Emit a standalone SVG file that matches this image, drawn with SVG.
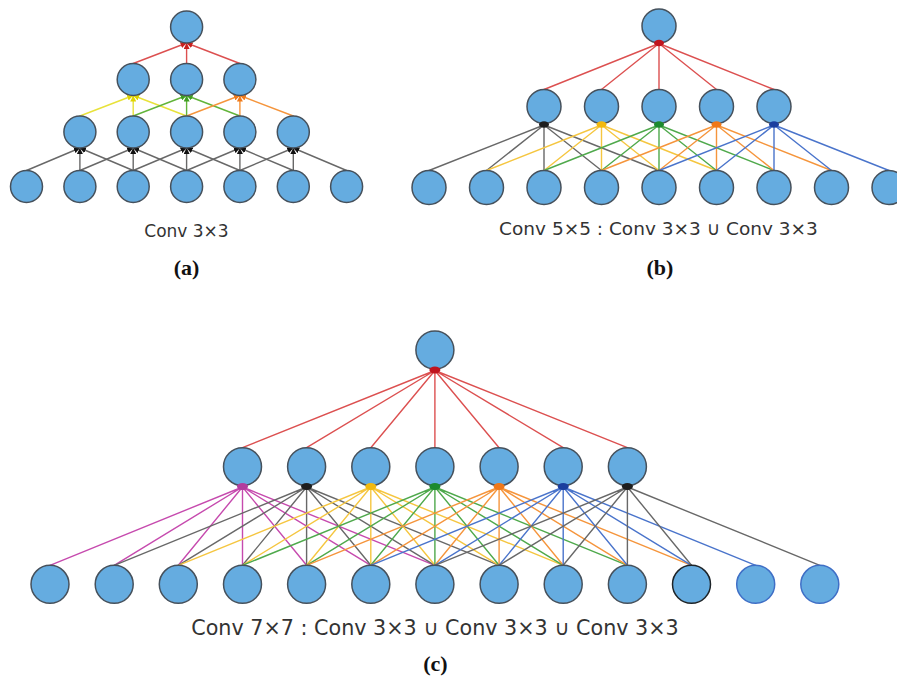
<svg xmlns="http://www.w3.org/2000/svg" width="897" height="679" viewBox="0 0 897 679">
  <style>
    .n { fill: #65ace0; stroke: #46515c; stroke-width: 1.5; }
    .n.dk { stroke: #1e2428; }
    .n.bl { stroke: #3f6fc6; }
    .e { fill: none; stroke-width: 1.4; stroke-linecap: round; }
    .gy { stroke: #686868; }
    .ye { stroke: #f5c640; }
    .ly { stroke: #e8e23a; }
    .gn { stroke: #4fa94c; }
    .lg { stroke: #62b43a; }
    .or { stroke: #f5953c; }
    .bu { stroke: #4a74cb; }
    .mg { stroke: #c64aae; }
    .rd { stroke: #dc5050; }
    .cap { font-family: "DejaVu Sans", "Noto Sans", sans-serif; fill: #333; text-anchor: middle; }
    .tag { font-family: "Liberation Serif", "Times New Roman", serif; font-weight: bold; font-size: 22px; fill: #111; text-anchor: middle; }
  </style>
  <defs>
    <marker id="ah-k" viewBox="0 0 8 8" refX="8" refY="4" markerWidth="6" markerHeight="6" markerUnits="userSpaceOnUse" orient="auto"><path d="M0,0L8,4L0,8z" fill="#111"/></marker>
    <marker id="ah-y" viewBox="0 0 8 8" refX="8" refY="4" markerWidth="6" markerHeight="6" markerUnits="userSpaceOnUse" orient="auto"><path d="M0,0L8,4L0,8z" fill="#e0d400"/></marker>
    <marker id="ah-g" viewBox="0 0 8 8" refX="8" refY="4" markerWidth="6" markerHeight="6" markerUnits="userSpaceOnUse" orient="auto"><path d="M0,0L8,4L0,8z" fill="#3f9e22"/></marker>
    <marker id="ah-o" viewBox="0 0 8 8" refX="8" refY="4" markerWidth="6" markerHeight="6" markerUnits="userSpaceOnUse" orient="auto"><path d="M0,0L8,4L0,8z" fill="#f07a1a"/></marker>
    <marker id="ah-r" viewBox="0 0 8 8" refX="8" refY="4" markerWidth="6" markerHeight="6" markerUnits="userSpaceOnUse" orient="auto"><path d="M0,0L8,4L0,8z" fill="#c8201e"/></marker>
  </defs>

  <!-- ===== (a) stacked 3x3 convolutions ===== -->
  <g id="a-connectors">
    <g class="e gy" marker-end="url(#ah-k)">
      <line x1="26.5" y1="170.5" x2="79.9" y2="148"/>
      <line x1="79.9" y1="170.5" x2="79.9" y2="148"/>
      <line x1="133.2" y1="170.5" x2="79.9" y2="148"/>
      <line x1="79.9" y1="170.5" x2="133.2" y2="148"/>
      <line x1="133.2" y1="170.5" x2="133.2" y2="148"/>
      <line x1="186.6" y1="170.5" x2="133.2" y2="148"/>
      <line x1="133.2" y1="170.5" x2="186.6" y2="148"/>
      <line x1="186.6" y1="170.5" x2="186.6" y2="148"/>
      <line x1="239.9" y1="170.5" x2="186.6" y2="148"/>
      <line x1="186.6" y1="170.5" x2="239.9" y2="148"/>
      <line x1="239.9" y1="170.5" x2="239.9" y2="148"/>
      <line x1="293.3" y1="170.5" x2="239.9" y2="148"/>
      <line x1="239.9" y1="170.5" x2="293.3" y2="148"/>
      <line x1="293.3" y1="170.5" x2="293.3" y2="148"/>
      <line x1="346.6" y1="170.5" x2="293.3" y2="148"/>
    </g>
    <g class="e ly" marker-end="url(#ah-y)">
      <line x1="79.9" y1="116" x2="133.2" y2="95.5"/>
      <line x1="133.2" y1="116" x2="133.2" y2="95.5"/>
      <line x1="186.6" y1="116" x2="133.2" y2="95.5"/>
    </g>
    <g class="e lg" marker-end="url(#ah-g)">
      <line x1="133.2" y1="116" x2="186.6" y2="95.5"/>
      <line x1="186.6" y1="116" x2="186.6" y2="95.5"/>
      <line x1="239.9" y1="116" x2="186.6" y2="95.5"/>
    </g>
    <g class="e or" marker-end="url(#ah-o)">
      <line x1="186.6" y1="116" x2="239.9" y2="95.5"/>
      <line x1="239.9" y1="116" x2="239.9" y2="95.5"/>
      <line x1="293.3" y1="116" x2="239.9" y2="95.5"/>
    </g>
    <g class="e rd" marker-end="url(#ah-r)">
      <line x1="133.2" y1="63.5" x2="186.6" y2="43"/>
      <line x1="186.6" y1="63.5" x2="186.6" y2="43"/>
      <line x1="239.9" y1="63.5" x2="186.6" y2="43"/>
    </g>
  </g>
  <g id="a-out"><circle class="n" cx="186.6" cy="27" r="16"/></g>
  <g id="a-h2-0"><circle class="n" cx="133.2" cy="79.5" r="16"/></g>
  <g id="a-h2-1"><circle class="n" cx="186.6" cy="79.5" r="16"/></g>
  <g id="a-h2-2"><circle class="n" cx="239.9" cy="79.5" r="16"/></g>
  <g id="a-h1-0"><circle class="n" cx="79.9" cy="132" r="16"/></g>
  <g id="a-h1-1"><circle class="n" cx="133.2" cy="132" r="16"/></g>
  <g id="a-h1-2"><circle class="n" cx="186.6" cy="132" r="16"/></g>
  <g id="a-h1-3"><circle class="n" cx="239.9" cy="132" r="16"/></g>
  <g id="a-h1-4"><circle class="n" cx="293.3" cy="132" r="16"/></g>
  <g id="a-in-0"><circle class="n" cx="26.5" cy="186.5" r="16"/></g>
  <g id="a-in-1"><circle class="n" cx="79.9" cy="186.5" r="16"/></g>
  <g id="a-in-2"><circle class="n" cx="133.2" cy="186.5" r="16"/></g>
  <g id="a-in-3"><circle class="n" cx="186.6" cy="186.5" r="16"/></g>
  <g id="a-in-4"><circle class="n" cx="239.9" cy="186.5" r="16"/></g>
  <g id="a-in-5"><circle class="n" cx="293.3" cy="186.5" r="16"/></g>
  <g id="a-in-6"><circle class="n" cx="346.6" cy="186.5" r="16"/></g>
  <text class="cap" x="186.5" y="237" font-size="17">Conv 3×3</text>
  <text class="tag" x="186.5" y="275">(a)</text>

  <!-- ===== (b) 5x5 receptive field ===== -->
  <g id="b-connectors">
    <path class="e rd" d="M659 43.5L544 89.5M659 43.5L601.5 89.5M659 43.5L659 89.5M659 43.5L716.5 89.5M659 43.5L774 89.5"/>
    <path class="e gy" d="M544 125L429 170.5M544 125L486.5 170.5M544 125L544 170.5M544 125L601.5 170.5M544 125L659 170.5"/>
    <path class="e ye" d="M601.5 125L486.5 170.5M601.5 125L544 170.5M601.5 125L601.5 170.5M601.5 125L659 170.5M601.5 125L716.5 170.5"/>
    <path class="e gn" d="M659 125L544 170.5M659 125L601.5 170.5M659 125L659 170.5M659 125L716.5 170.5M659 125L774 170.5"/>
    <path class="e or" d="M716.5 125L601.5 170.5M716.5 125L659 170.5M716.5 125L716.5 170.5M716.5 125L774 170.5M716.5 125L831.5 170.5"/>
    <path class="e bu" d="M774 125L659 170.5M774 125L716.5 170.5M774 125L774 170.5M774 125L831.5 170.5M774 125L889 170.5"/>
  </g>
  <g id="b-out"><circle class="n" cx="659" cy="26" r="17"/></g>
  <g id="b-h-0"><circle class="n" cx="544" cy="106.5" r="17"/></g>
  <g id="b-h-1"><circle class="n" cx="601.5" cy="106.5" r="17"/></g>
  <g id="b-h-2"><circle class="n" cx="659" cy="106.5" r="17"/></g>
  <g id="b-h-3"><circle class="n" cx="716.5" cy="106.5" r="17"/></g>
  <g id="b-h-4"><circle class="n" cx="774" cy="106.5" r="17"/></g>
  <g id="b-in-0"><circle class="n" cx="429" cy="187.5" r="17"/></g>
  <g id="b-in-1"><circle class="n" cx="486.5" cy="187.5" r="17"/></g>
  <g id="b-in-2"><circle class="n" cx="544" cy="187.5" r="17"/></g>
  <g id="b-in-3"><circle class="n" cx="601.5" cy="187.5" r="17"/></g>
  <g id="b-in-4"><circle class="n" cx="659" cy="187.5" r="17"/></g>
  <g id="b-in-5"><circle class="n" cx="716.5" cy="187.5" r="17"/></g>
  <g id="b-in-6"><circle class="n" cx="774" cy="187.5" r="17"/></g>
  <g id="b-in-7"><circle class="n" cx="831.5" cy="187.5" r="17"/></g>
  <g id="b-in-8"><circle class="n" cx="889" cy="187.5" r="17"/></g>
  <!-- fan-in joints under each node -->
  <g id="b-joints">
    <ellipse cx="659" cy="43" rx="5" ry="3.2" fill="#c0141e"/>
    <ellipse cx="544" cy="124.5" rx="5" ry="3.2" fill="#1e1e1e"/>
    <ellipse cx="601.5" cy="124.5" rx="5" ry="3.2" fill="#f2b90f"/>
    <ellipse cx="659" cy="124.5" rx="5" ry="3.2" fill="#1d8a2e"/>
    <ellipse cx="716.5" cy="124.5" rx="5" ry="3.2" fill="#f07818"/>
    <ellipse cx="774" cy="124.5" rx="5" ry="3.2" fill="#1b3e9e"/>
  </g>
  <text class="cap" x="658.5" y="235" font-size="18.5">Conv 5×5 : Conv 3×3 ∪ Conv 3×3</text>
  <text class="tag" x="660" y="275">(b)</text>

  <!-- ===== (c) 7x7 receptive field ===== -->
  <g id="c-connectors">
    <path class="e rd" d="M434.9 370.5L242.5 447.7M434.9 370.5L306.6 447.7M434.9 370.5L370.8 447.7M434.9 370.5L434.9 447.7M434.9 370.5L499.1 447.7M434.9 370.5L563.2 447.7M434.9 370.5L627.4 447.7"/>
    <path class="e mg" d="M242.5 487L50 565.3M242.5 487L114.2 565.3M242.5 487L178.3 565.3M242.5 487L242.5 565.3M242.5 487L306.6 565.3M242.5 487L370.8 565.3M242.5 487L434.9 565.3"/>
    <path class="e gy" d="M306.6 487L114.2 565.3M306.6 487L178.3 565.3M306.6 487L242.5 565.3M306.6 487L306.6 565.3M306.6 487L370.8 565.3M306.6 487L434.9 565.3M306.6 487L499.1 565.3"/>
    <path class="e ye" d="M370.8 487L178.3 565.3M370.8 487L242.5 565.3M370.8 487L306.6 565.3M370.8 487L370.8 565.3M370.8 487L434.9 565.3M370.8 487L499.1 565.3M370.8 487L563.2 565.3"/>
    <path class="e gn" d="M434.9 487L242.5 565.3M434.9 487L306.6 565.3M434.9 487L370.8 565.3M434.9 487L434.9 565.3M434.9 487L499.1 565.3M434.9 487L563.2 565.3M434.9 487L627.4 565.3"/>
    <path class="e or" d="M499.1 487L306.6 565.3M499.1 487L370.8 565.3M499.1 487L434.9 565.3M499.1 487L499.1 565.3M499.1 487L563.2 565.3M499.1 487L627.4 565.3M499.1 487L691.5 565.3"/>
    <path class="e bu" d="M563.2 487L370.8 565.3M563.2 487L434.9 565.3M563.2 487L499.1 565.3M563.2 487L563.2 565.3M563.2 487L627.4 565.3M563.2 487L691.5 565.3M563.2 487L755.7 565.3"/>
    <path class="e gy" d="M627.4 487L434.9 565.3M627.4 487L499.1 565.3M627.4 487L563.2 565.3M627.4 487L627.4 565.3M627.4 487L691.5 565.3M627.4 487L819.8 565.3"/>
  </g>
  <g id="c-out"><circle class="n" cx="434.9" cy="350" r="19"/></g>
  <g id="c-h-0"><circle class="n" cx="242.5" cy="466.7" r="19"/></g>
  <g id="c-h-1"><circle class="n" cx="306.6" cy="466.7" r="19"/></g>
  <g id="c-h-2"><circle class="n" cx="370.8" cy="466.7" r="19"/></g>
  <g id="c-h-3"><circle class="n" cx="434.9" cy="466.7" r="19"/></g>
  <g id="c-h-4"><circle class="n" cx="499.1" cy="466.7" r="19"/></g>
  <g id="c-h-5"><circle class="n" cx="563.2" cy="466.7" r="19"/></g>
  <g id="c-h-6"><circle class="n" cx="627.4" cy="466.7" r="19"/></g>
  <g id="c-in-0"><circle class="n" cx="50" cy="584.3" r="19"/></g>
  <g id="c-in-1"><circle class="n" cx="114.2" cy="584.3" r="19"/></g>
  <g id="c-in-2"><circle class="n" cx="178.3" cy="584.3" r="19"/></g>
  <g id="c-in-3"><circle class="n" cx="242.5" cy="584.3" r="19"/></g>
  <g id="c-in-4"><circle class="n" cx="306.6" cy="584.3" r="19"/></g>
  <g id="c-in-5"><circle class="n" cx="370.8" cy="584.3" r="19"/></g>
  <g id="c-in-6"><circle class="n" cx="434.9" cy="584.3" r="19"/></g>
  <g id="c-in-7"><circle class="n" cx="499.1" cy="584.3" r="19"/></g>
  <g id="c-in-8"><circle class="n" cx="563.2" cy="584.3" r="19"/></g>
  <g id="c-in-9"><circle class="n" cx="627.4" cy="584.3" r="19"/></g>
  <g id="c-in-10"><circle class="n dk" cx="691.5" cy="584.3" r="19"/></g>
  <g id="c-in-11"><circle class="n bl" cx="755.7" cy="584.3" r="19"/></g>
  <g id="c-in-12"><circle class="n bl" cx="819.8" cy="584.3" r="19"/></g>
  <g id="c-joints">
    <ellipse cx="434.9" cy="370" rx="5.5" ry="3.4" fill="#c0141e"/>
    <ellipse cx="242.5" cy="486.5" rx="5.5" ry="3.4" fill="#b23c9e"/>
    <ellipse cx="306.6" cy="486.5" rx="5.5" ry="3.4" fill="#1e1e1e"/>
    <ellipse cx="370.8" cy="486.5" rx="5.5" ry="3.4" fill="#f2b90f"/>
    <ellipse cx="434.9" cy="486.5" rx="5.5" ry="3.4" fill="#1d8a2e"/>
    <ellipse cx="499.1" cy="486.5" rx="5.5" ry="3.4" fill="#f07818"/>
    <ellipse cx="563.2" cy="486.5" rx="5.5" ry="3.4" fill="#1b3e9e"/>
    <ellipse cx="627.4" cy="486.5" rx="5.5" ry="3.4" fill="#1e1e1e"/>
  </g>
  <text class="cap" x="435" y="635" font-size="20.7">Conv 7×7 : Conv 3×3 ∪ Conv 3×3 ∪ Conv 3×3</text>
  <text class="tag" x="435.5" y="671">(c)</text>
</svg>
